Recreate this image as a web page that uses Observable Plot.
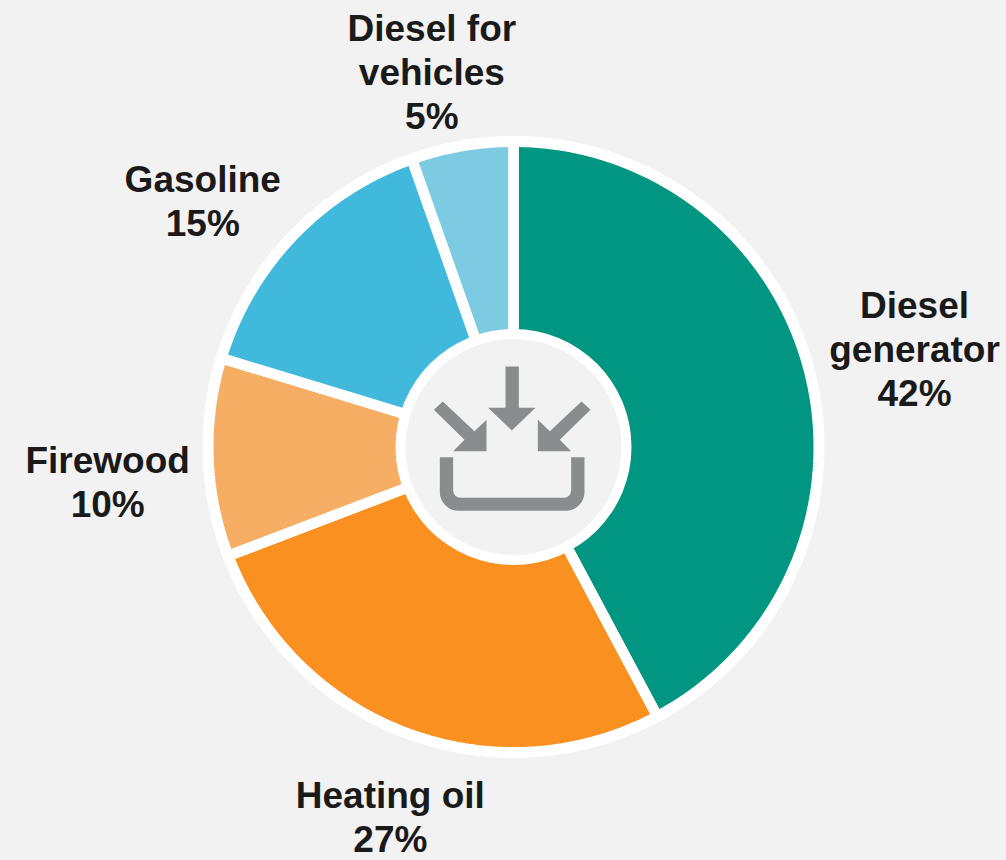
<!DOCTYPE html>
<html>
<head>
<meta charset="utf-8">
<script src="https://cdn.jsdelivr.net/npm/d3@7"></script>
<script src="https://cdn.jsdelivr.net/npm/@observablehq/plot@0.6"></script>
<style>
html,body{margin:0;padding:0;background:#f2f2f2;overflow:hidden}
svg{display:block}
</style>
</head>
<body>
<div id="chart"></div>
<script>
// Data
const categories = ["Diesel generator", "Heating oil", "Firewood", "Gasoline", "Diesel for vehicles"];
const shares = [42.2, 27.0, 10.5, 14.9, 5.4];
const shareLabels = ["42%", "27%", "10%", "15%", "5%"];
const labelLines = ["Diesel\ngenerator", "Heating oil", "Firewood", "Gasoline", "Diesel for\nvehicles"];
const sliceColors = ["#009681", "#f9901f", "#f6ae65", "#41b9dc", "#7dcbe3"];

// Layout
const outerRadius = 305.3, gapWidth = 10.6;
const ringRadius = 311, holeRingRadius = 118, holeRadius = 108;
const labelRadius = 300;
const labelShift = [[110, -26], [-18, 88], [-106, 24], [-94, -40], [-31, -80]];

const total = d3.sum(shares);
let cum = 0;
const slices = categories.map((name, i) => {
  const start = cum / total * 2 * Math.PI;
  cum += shares[i];
  const end = cum / total * 2 * Math.PI;
  return {name, start, end, mid: (start + end) / 2, i};
});
const wedgePoints = slices.flatMap(s => {
  const n = Math.ceil((s.end - s.start) / 0.01);
  const arc = d3.range(n + 1).map(k => {
    const a = s.start + (s.end - s.start) * k / n;
    return {name: s.name, x: outerRadius * Math.sin(a), y: -outerRadius * Math.cos(a)};
  });
  return [{name: s.name, x: 0, y: 0}, ...arc];
});
const labels = slices.map(s => ({
  text: labelLines[s.i] + "\n" + shareLabels[s.i],
  x: labelRadius * Math.sin(s.mid) + labelShift[s.i][0],
  y: -labelRadius * Math.cos(s.mid) + labelShift[s.i][1]
}));

// Centre icon, drawn as a custom dot symbol around the chart's centre
const P = (x, y) => [x / 3 - 133, y / 3 - 136.5];
const polys = [
  [[375,168],[415,168],[415,292],[465,292],[394,360],[323,292],[375,292]],
  [[187,273],[160,298],[252,388],[218,422],[318,422],[318,328],[282,362]],
  [[603,273],[630,298],[538,388],[572,422],[472,422],[472,328],[508,362]]
];
const iconSymbol = {
  draw(ctx) {
    for (const poly of polys) {
      poly.forEach((p, i) => { const [x, y] = P(...p); i ? ctx.lineTo(x, y) : ctx.moveTo(x, y); });
      ctx.closePath();
    }
    const m = (x, y) => ctx.moveTo(...P(x, y));
    const l = (x, y) => ctx.lineTo(...P(x, y));
    const a = (x1, y1, x2, y2, r) => ctx.arcTo(...P(x1, y1), ...P(x2, y2), r / 3);
    m(178, 440); l(218, 440); l(218, 540);
    a(218, 562, 240, 562, 22);
    l(550, 562);
    a(572, 562, 572, 540, 22);
    l(572, 440); l(612, 440); l(612, 545);
    a(612, 601, 557, 601, 56);
    l(233, 601);
    a(178, 601, 178, 546, 56);
    ctx.closePath();
  }
};

const origin = [{x: 0, y: 0}];
const chart = Plot.plot({
  width: 1006,
  height: 860,
  margin: 0,
  style: {background: "transparent"},
  x: {domain: [-513, 493], range: [0, 1006], axis: null},
  y: {domain: [-446.5, 413.5], range: [0, 860], axis: null},
  color: {domain: categories, range: sliceColors},
  marks: [
    Plot.dot(origin, {x: "x", y: "y", r: ringRadius, fill: "white", stroke: "none"}),
    Plot.line(wedgePoints, {
      x: "x", y: "y", z: "name", fill: "name",
      stroke: "white", strokeWidth: gapWidth,
      curve: "linear-closed", strokeLinejoin: "miter"
    }),
    Plot.dot(origin, {x: "x", y: "y", r: holeRingRadius, fill: "white", stroke: "none"}),
    Plot.dot(origin, {x: "x", y: "y", r: holeRadius, fill: "#f2f2f2", stroke: "none"}),
    Plot.dot(origin, {x: "x", y: "y", r: 10, symbol: iconSymbol, fill: "#8a8d8e", stroke: "none"}),
    Plot.text(labels, {
      x: "x", y: "y", text: "text",
      fontFamily: "Liberation Sans, Arial, sans-serif",
      fontWeight: 700, fontSize: 37, lineHeight: 1.19,
      fill: "#1a1a1a", textAnchor: "middle"
    })
  ]
});
document.getElementById("chart").appendChild(chart);
</script>
</body>
</html>
